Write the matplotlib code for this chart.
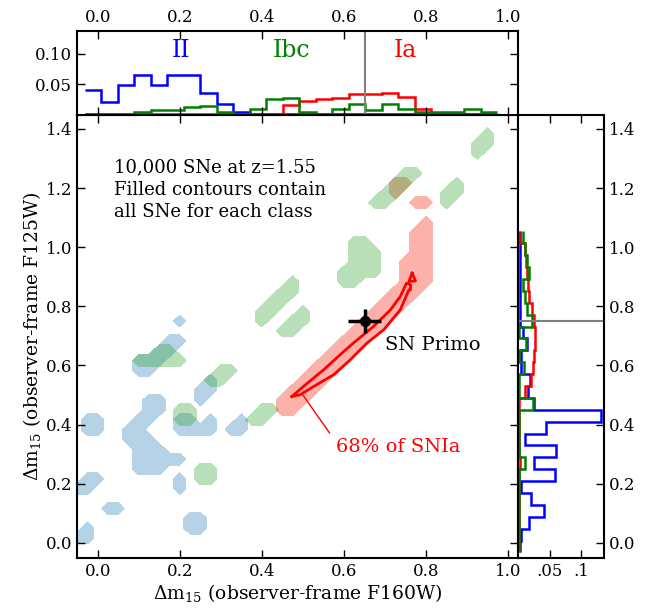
import numpy as np
import matplotlib
matplotlib.use("Agg")
import matplotlib.pyplot as plt

plt.rcParams["font.family"] = "DejaVu Serif"
plt.rcParams["mathtext.fontset"] = "dejavuserif"

# ---------------------------------------------------------------------------
# 1-D marginal distributions (fraction of SNe per bin)
# ---------------------------------------------------------------------------
X_EDGES = np.linspace(-0.032, 0.973, 26)   # dm15 F160W bins
Y_EDGES = np.linspace(-0.032, 1.053, 28)   # dm15 F125W bins

TOP_II = [0.041, 0.020, 0.049, 0.065, 0.049, 0.065, 0.065, 0.035, 0.017, 0.005,
          0.001, 0.001, 0.0005, 0.0005, 0.0005, 0.0005, 0.0005, 0.0005, 0.0005,
          0.0005, 0.0005, 0.0005, 0.0005, 0.0005, 0.0005]
TOP_IBC = [0.001, 0.001, 0.001, 0.005, 0.007, 0.007, 0.013, 0.014, 0.005, 0.001,
           0.010, 0.025, 0.028, 0.004, 0.001, 0.010, 0.017, 0.007, 0.018, 0.010,
           0.005, 0.004, 0.005, 0.009, 0.005]
TOP_IA = [0.0005, 0.0005, 0.0005, 0.0005, 0.0005, 0.0005, 0.001, 0.001, 0.001,
          0.0005, 0.0005, 0.0005, 0.016, 0.023, 0.025, 0.028, 0.034, 0.034, 0.035,
          0.029, 0.009, 0.0005, 0.0005, 0.0005, 0.0005]

SIDE_II = [0.002, 0.0045, 0.017, 0.041, 0.020, 0.0045, 0.058, 0.025, 0.060, 0.0105,
           0.045, 0.1326, 0.025, 0.015, 0.0185, 0.004, 0.004, 0.014, 0.008, 0.002,
           0.002, 0.002, 0.002, 0.002, 0.002, 0.002, 0.002]
SIDE_IBC = [0.001, 0.001, 0.001, 0.001, 0.001, 0.001, 0.001, 0.0105, 0.001, 0.001,
            0.001, 0.001, 0.023, 0.001, 0.001, 0.009, 0.001, 0.012, 0.001, 0.022,
            0.014, 0.010, 0.007, 0.017, 0.014, 0.010, 0.008]
SIDE_IA = [0.0005, 0.0005, 0.0005, 0.0005, 0.0005, 0.0005, 0.0005, 0.002, 0.0005,
           0.0005, 0.0005, 0.0005, 0.0005, 0.010, 0.020, 0.023, 0.025, 0.026, 0.026,
           0.025, 0.022, 0.017, 0.016, 0.014, 0.012, 0.010, 0.001]

# ---------------------------------------------------------------------------
# 2-D occupancy on a coarse (dm15_160, dm15_125) grid; (ix, iy) index pairs
# ---------------------------------------------------------------------------
GRID_X = np.linspace(-0.05, 1.025, 44)
GRID_Y = np.linspace(-0.05, 1.45, 46)

II_CELLS = [
    (0, 2), (1, 2), (1, 3),
    (3, 5), (4, 5),
    (11, 3), (12, 3), (11, 4), (12, 4),
    (0, 7), (1, 7), (1, 8), (2, 8),
    (10, 7), (10, 8),
    (1, 13), (2, 13), (1, 14), (2, 14),
    (7, 14), (7, 15), (7, 16), (8, 15), (8, 16), (6, 14), (5, 13), (6, 13),
    (5, 12), (6, 12), (7, 12), (6, 11), (7, 11), (8, 11), (6, 10), (7, 10),
    (8, 10), (9, 10), (10, 10), (6, 9), (7, 9), (8, 9),
    (10, 13), (11, 13), (10, 14), (11, 14),
    (12, 13), (13, 13), (13, 14),
    (15, 13), (16, 13), (16, 14),
    (12, 16), (12, 17), (13, 17), (13, 18),
    (6, 19), (7, 19), (6, 20), (7, 20), (8, 20), (8, 21), (9, 21), (9, 22),
    (10, 22),
    (10, 24),
]

IBC_CELLS = [
    (12, 8), (13, 8), (12, 9), (13, 9),
    (10, 14), (11, 14), (10, 15), (11, 15),
    (17, 14), (18, 14), (18, 15), (19, 15),
    (13, 18), (14, 18), (14, 19), (15, 19),
    (6, 20), (7, 20), (8, 20), (9, 20), (10, 20), (8, 21), (9, 21),
    (20, 23), (21, 23), (21, 24), (22, 24), (22, 25),
    (18, 24), (18, 25), (19, 25), (19, 26), (20, 26), (20, 27), (21, 27),
    (21, 28),
    (27, 32), (28, 32), (27, 31), (28, 31), (29, 31), (27, 30), (28, 30),
    (29, 30), (26, 29), (27, 29), (28, 29), (29, 29), (26, 28), (27, 28),
    (29, 36), (30, 36), (30, 37), (31, 37), (31, 38), (32, 38), (32, 39),
    (33, 39),
    (36, 36), (36, 37), (37, 37), (37, 38),
    (39, 41), (39, 42), (40, 42), (40, 43),
]

IA_CELLS = [
    (31, 37), (31, 38), (32, 38),
    (33, 36), (34, 36),
]
# main SN Ia ridge: (ix, iy_low, iy_high) per column
IA_RIDGE = [
    (20, 15, 16), (21, 15, 17), (22, 16, 18), (23, 17, 19), (24, 18, 20),
    (25, 19, 21), (26, 20, 22), (27, 21, 23), (28, 22, 24), (29, 23, 25),
    (30, 24, 26), (31, 25, 27), (32, 26, 30), (33, 27, 33), (34, 28, 34),
]

# 68% enclosed-probability contour of the SN Ia population
IA68_X = [0.473, 0.501, 0.550, 0.599, 0.623, 0.672, 0.713, 0.737, 0.752, 0.762,
          0.762, 0.758, 0.737, 0.697, 0.656, 0.615, 0.575, 0.526, 0.493, 0.473]
IA68_Y = [0.495, 0.529, 0.585, 0.647, 0.676, 0.732, 0.788, 0.833, 0.878, 0.873,
          0.856, 0.856, 0.788, 0.721, 0.676, 0.619, 0.569, 0.529, 0.501, 0.495]
IA68_TIP_X = [0.766, 0.758, 0.774, 0.766]
IA68_TIP_Y = [0.912, 0.884, 0.886, 0.912]

PRIMO_X, PRIMO_Y = 0.65, 0.75
PRIMO_XERR, PRIMO_YERR = 0.04, 0.04

FILL_LEVEL = 0.4


def occupancy(cells, ridge=()):
    z = np.zeros((len(GRID_Y), len(GRID_X)))
    for ix, iy in cells:
        z[iy, ix] = 1.0
    for ix, lo, hi in ridge:
        z[lo:hi + 1, ix] = 1.0
    return z


fig = plt.figure(figsize=(6.54, 6.09), dpi=100)
ax = fig.add_axes([0.118, 0.0842, 0.6748, 0.7275])
ax_top = fig.add_axes([0.118, 0.8117, 0.6748, 0.1379], sharex=ax)
ax_right = fig.add_axes([0.7925, 0.0842, 0.1315, 0.7275], sharey=ax)

gx, gy = np.meshgrid(GRID_X, GRID_Y)
ax.contourf(gx, gy, occupancy(IA_CELLS, IA_RIDGE), levels=[FILL_LEVEL, 1.5],
            colors=["salmon"], alpha=0.6)
ax.contourf(gx, gy, occupancy(II_CELLS), levels=[FILL_LEVEL, 1.5],
            colors=["#1f77b4"], alpha=0.33)
ax.contourf(gx, gy, occupancy(IBC_CELLS), levels=[FILL_LEVEL, 1.5],
            colors=["#2ca02c"], alpha=0.33)

ax.plot(IA68_X, IA68_Y, color="red", lw=2)
ax.plot(IA68_TIP_X, IA68_TIP_Y, color="red", lw=2)

ax.errorbar(PRIMO_X, PRIMO_Y, xerr=PRIMO_XERR, yerr=PRIMO_YERR, fmt="o",
            color="black", ms=7, elinewidth=2.5, capsize=0)
ax.text(0.699, 0.651, "SN Primo", fontsize=14, va="baseline")
ax.annotate("68% of SNIa", xy=(0.50, 0.50), xytext=(0.580, 0.306),
            color="red", fontsize=14, va="baseline",
            arrowprops=dict(arrowstyle="-", color="red", lw=1,
                            shrinkA=0, shrinkB=0, relpos=(-0.05, 1.3)))
ax.text(0.04, 1.30, "10,000 SNe at z=1.55\nFilled contours contain\n"
        "all SNe for each class", fontsize=13, va="top", linespacing=1.3)

ax.set_xlim(-0.05, 1.025)
ax.set_ylim(-0.05, 1.448)
ax.set_xticks(np.arange(0, 1.01, 0.2))
ax.set_yticks(np.arange(0, 1.41, 0.2))
ax.set_xlabel(r"$\Delta$m$_{15}$ (observer-frame F160W)", fontsize=13.5,
              labelpad=2)
ax.set_ylabel(r"$\Delta$m$_{15}$ (observer-frame F125W)", fontsize=13.5,
              labelpad=2)
ax.tick_params(direction="in", length=6, width=1, labelsize=12,
               top=True, right=True)

# marginal in F160W
ax_top.stairs(TOP_II, X_EDGES, color="blue", lw=1.8, baseline=None)
ax_top.stairs(TOP_IA, X_EDGES, color="red", lw=1.8, baseline=None)
ax_top.stairs(TOP_IBC, X_EDGES, color="green", lw=1.8, baseline=None)
ax_top.axvline(PRIMO_X, color="gray", lw=1.5)
ax_top.text(0.204, 0.105, "II", color="blue", fontsize=17, ha="center",
            va="center")
ax_top.text(0.473, 0.105, "Ibc", color="green", fontsize=17, ha="center",
            va="center")
ax_top.text(0.75, 0.105, "Ia", color="red", fontsize=17, ha="center",
            va="center")
ax_top.set_ylim(0, 0.1375)
ax_top.set_yticks([0.05, 0.10])
ax_top.set_yticklabels(["0.05", "0.10"])
ax_top.tick_params(direction="in", length=6, width=1, labelsize=12,
                   top=True, right=True, labeltop=True, labelbottom=False)

# marginal in F125W
ax_right.stairs(SIDE_II, Y_EDGES, orientation="horizontal", color="blue",
                lw=1.8, baseline=None)
ax_right.stairs(SIDE_IA, Y_EDGES, orientation="horizontal", color="red",
                lw=1.8, baseline=None)
ax_right.stairs(SIDE_IBC, Y_EDGES, orientation="horizontal", color="green",
                lw=1.8, baseline=None)
ax_right.axhline(PRIMO_Y, color="gray", lw=1.5)
ax_right.set_xlim(0, 0.1375)
ax_right.set_xticks([0.05, 0.1])
ax_right.set_xticklabels([".05", ".1"])
ax_right.tick_params(direction="in", length=6, width=1, labelsize=12,
                     top=True, right=True, left=False, labelleft=False,
                     labelright=True)

for a in (ax, ax_top, ax_right):
    for s in a.spines.values():
        s.set_linewidth(1.5)

fig.savefig("out.png", dpi=100)
